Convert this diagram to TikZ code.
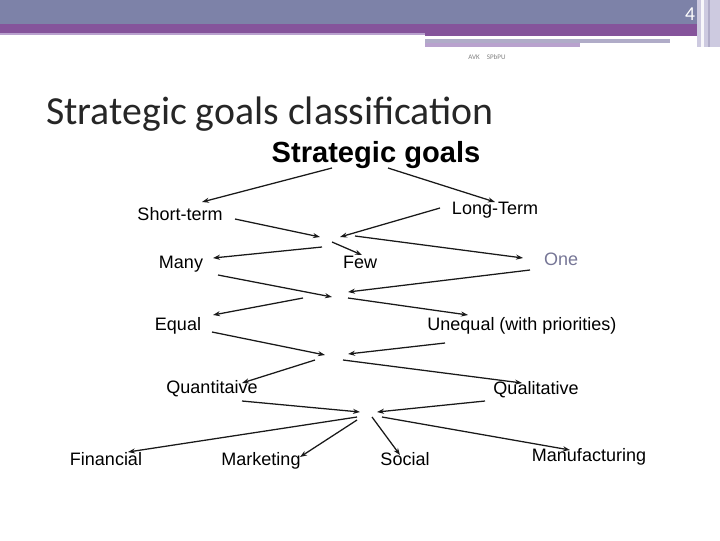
\documentclass[tikz,border=0pt]{standalone}
\usepackage{fontspec}
\setmainfont{Carlito}
\newfontfamily\lblfont{Liberation Sans}
\usetikzlibrary{arrows.meta, calc}
\definecolor{bandgray}{RGB}{125,130,168}
\definecolor{bandpurple}{RGB}{133,84,155}
\definecolor{linelilac}{RGB}{185,162,206}
\definecolor{bargray}{RGB}{176,172,200}
\definecolor{stripe}{RGB}{205,202,224}
\definecolor{titledark}{RGB}{38,38,38}
\definecolor{onegray}{RGB}{118,118,150}
\definecolor{arrowdark}{RGB}{25,25,25}

\begin{document}
\begin{tikzpicture}[
    x=0.025cm, y=-0.025cm,
    lbl/.style={anchor=base, inner sep=0pt, font=\lblfont\fontsize{12.8}{15}\selectfont},
    arrow/.style={-{Stealth[length=5pt, width=3.6pt]}, line width=0.9pt, color=arrowdark},
]
\useasboundingbox (0,0) rectangle (720,540);

% Header bands
\fill[bandgray] (0,0) rectangle (720,24);
\fill[bandpurple] (0,24) rectangle (720,33);
\fill[linelilac] (0,33) rectangle (425,35);
\fill[bandpurple] (425,33) rectangle (697,36);
\fill[white] (425,36) rectangle (668,39);
\fill[bargray] (425,39) rectangle (670,43);
\fill[linelilac] (425,43) rectangle (580,47);
\fill[stripe] (697,0) rectangle (720,47);
\fill[white!85!stripe] (701,0) rectangle (704,47);
\fill[bargray] (708,0) rectangle (710,47);
\node[text=white, font=\fontsize{14}{16}\selectfont, inner sep=0pt] (pagenum) at (690,14) {4};
\node[text=gray, font=\fontsize{5}{6}\selectfont, inner sep=0pt] (footer) at (487,57) {AVK\quad SPbPU};

% Titles
\node[anchor=base, inner sep=0pt, text=titledark, font=\fontsize{28.3}{32}\selectfont] (title) at (270,124) {Strategic goals classification};
\node[anchor=base, inner sep=0pt, font=\lblfont\bfseries\fontsize{20.7}{24}\selectfont] (sg) at (376,162) {Strategic goals};

% Labels
\node[lbl] (st) at (180,220) {Short-term};
\node[lbl] (lt) at (495,214) {Long-Term};
\node[lbl] (many) at (181,268) {Many};
\node[lbl] (few) at (360,268) {Few};
\node[lbl, text=onegray] (one) at (561,265) {One};
\node[lbl] (equal) at (178,330) {Equal};
\node[lbl] (uneq) at (522,330) {Unequal (with priorities)};
\node[lbl] (quant) at (212,393) {Quantitaive};
\node[lbl] (qual) at (536,394) {Qualitative};
\node[lbl] (fin) at (106,465) {Financial};
\node[lbl] (mkt) at (261,465) {Marketing};
\node[lbl] (soc) at (405,465) {Social};
\node[lbl] (manu) at (589,461) {Manufacturing};

% Hubs
\coordinate (h1) at (330,240);
\coordinate (h2) at (340,296);
\coordinate (h3) at (337,357);
\coordinate (h4) at (368,415);

% Arrows
\draw[arrow] ($(sg.base)+(-44,6)$) -- ($(st.base)+(22,-18)$);
\draw[arrow] ($(sg.base)+(12,6)$) -- ($(lt.base)+(0,-12)$);
\draw[arrow] ($(st.base)+(55,-1)$) -- ($(h1)+(-10,-3)$);
\draw[arrow] ($(lt.base)+(-55,-6)$) -- ($(h1)+(10,-3)$);
\draw[arrow] ($(h1)+(-8,7)$) -- ($(many.base)+(32,-10)$);
\draw[arrow] ($(h1)+(2,2)$) -- ($(few.base)+(2,-13)$);
\draw[arrow] ($(h1)+(25,-4)$) -- ($(one.base)+(-38,-7)$);
\draw[arrow] ($(many.base)+(37,7)$) -- ($(h2)+(-8,1)$);
\draw[arrow] ($(one.base)+(-31,5)$) -- ($(h2)+(8,-4)$);
\draw[arrow] ($(h2)+(-37,2)$) -- ($(equal.base)+(35,-15)$);
\draw[arrow] ($(h2)+(8,2)$) -- ($(uneq.base)+(-54,-15)$);
\draw[arrow] ($(equal.base)+(34,2)$) -- ($(h3)+(-12,-2)$);
\draw[arrow] ($(uneq.base)+(-77,13)$) -- ($(h3)+(11,-3)$);
\draw[arrow] ($(h3)+(-22,3)$) -- ($(quant.base)+(30,-10)$);
\draw[arrow] ($(h3)+(6,3)$) -- ($(qual.base)+(-14,-11)$);
\draw[arrow] ($(quant.base)+(30,8)$) -- ($(h4)+(-8,-3)$);
\draw[arrow] ($(qual.base)+(-51,7)$) -- ($(h4)+(9,-3)$);
\draw[arrow] ($(h4)+(-11,2)$) -- ($(fin.base)+(22,-13)$);
\draw[arrow] ($(h4)+(-11,5)$) -- ($(mkt.base)+(39,-8)$);
\draw[arrow] ($(h4)+(4,2)$) -- ($(soc.base)+(-5,-10)$);
\draw[arrow] ($(h4)+(14,2)$) -- ($(manu.base)+(-19,-11)$);

\end{tikzpicture}
\end{document}
